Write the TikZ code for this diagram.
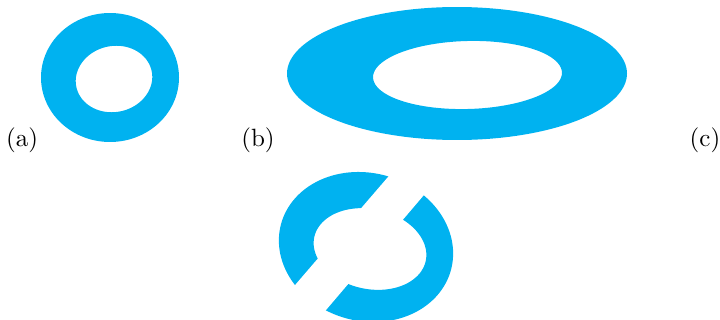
\documentclass[tikz,border=0pt]{standalone}
\definecolor{shapeblue}{RGB}{0,178,240}
\tikzset{blob/.style={fill=shapeblue,even odd rule},
  lbl/.style={anchor=base,inner sep=0pt}}
% rotated ellipse in image pixel coordinates: cx, cy, a, b, tilt
\newcommand{\rellipse}[5]{plot[domain=0:356,samples=90,smooth cycle,variable=\t]
  ({#1+#3*cos(\t)*cos(#5)-#4*sin(\t)*sin(#5)},{#2+#3*cos(\t)*sin(#5)+#4*sin(\t)*cos(#5)})}
\begin{document}
\begin{tikzpicture}[x=0.4pt,y=-0.4pt]
\useasboundingbox (0,0) rectangle (720,320);
% (a)
\fill[blob] \rellipse{110}{77.5}{69}{64.5}{0} \rellipse{114}{79}{38.5}{33}{-12};
% (b)
\fill[blob] \rellipse{457}{73.5}{170}{66.5}{0} \rellipse{467.5}{75}{94.5}{34}{-1.5};
% (c) shape: cut annulus
\fill[blob] \rellipse{366}{247}{88}{74}{15} \rellipse{370}{249}{57}{40}{12};
\fill[white] (256.4,330) -- (398.3,165) -- (449.5,165) -- (309,330) -- cycle;
% labels
\node[lbl] (la) at (22,146) {(a)};
\node[lbl] (lb) at (258,146) {(b)};
\node[lbl] (lc) at (705,146) {(c)};
\end{tikzpicture}
\end{document}
